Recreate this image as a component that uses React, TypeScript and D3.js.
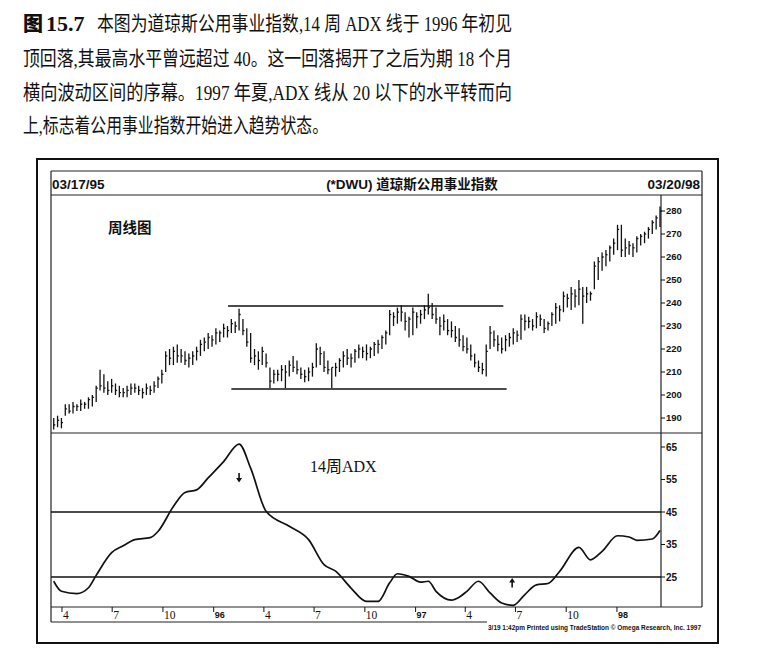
import React, { useEffect, useRef } from 'react';
import * as d3 from 'd3';

// weekly bars, 03/17/95 .. 03/20/98
const startDate = new Date(1995, 2, 17);
const endDate = new Date(1998, 2, 20);

const weekHigh = [
  190, 191, 190, 196, 196, 197, 196, 198, 197, 199,
  200, 204, 211, 209, 206, 207, 205, 204, 203, 204,
  205, 205, 204, 203, 205, 204, 206, 208, 211, 219,
  220, 221, 222, 220, 219, 218, 219, 221, 224, 225,
  227, 226, 229, 228, 231, 230, 233, 232, 237.5, 233,
  229, 227, 220, 219, 221, 218, 212, 211, 211, 213,
  213, 215, 217, 215, 212, 211, 212, 214, 222.5, 221,
  219, 215, 212, 214, 216, 219, 220, 218, 220, 222,
  221, 222, 221, 223, 224, 226, 228, 237, 236, 238,
  239, 236, 234, 238, 236, 237, 239, 244, 240, 238,
  234, 235, 233, 232, 230, 229, 226, 225, 222, 218,
  215, 214, 222, 230, 228, 226, 225, 226, 227, 229,
  228, 235, 235, 234, 233, 236, 235, 233, 232, 236,
  240, 239, 245, 244, 247, 246, 250, 247, 247, 245,
  258, 260, 262, 263, 265, 268, 274, 274, 268, 267,
  266, 269, 270, 271, 273, 276, 278, 282,
];

const weekLow = [
  185, 186, 185.5, 191, 192, 192, 193, 193, 194, 194,
  195, 197, 202, 201, 200, 201, 200, 199, 199, 199,
  200, 201, 200, 198.5, 200, 200, 201, 203, 205, 210,
  213, 213, 214, 214, 213, 212, 213, 215, 217, 219,
  220, 221, 222, 223, 225, 225, 227, 227, 228, 226,
  221, 214, 213, 211, 213, 212, 203, 205, 206, 206,
  203, 208, 210, 209, 207, 205.5, 206, 208, 212, 213,
  210, 209, 203, 208, 210, 212, 213, 212, 214, 216,
  216, 215, 216, 217, 218, 220, 222, 226, 230, 231,
  232, 228, 225, 226, 229, 231, 233, 235, 233, 231,
  226, 228, 226, 225, 223, 221, 219, 218, 215, 212,
  210, 209, 208, 220, 221, 219, 218, 219, 221, 222,
  223, 224, 228, 229, 228, 229, 230, 227, 228, 230,
  231, 232, 236, 238, 237, 238, 239, 231, 240, 241,
  246, 250, 254, 256, 258, 261, 263, 260, 260, 261,
  260, 262, 265, 266, 268, 270, 272, 273,
];

const weekClose = [
  187, 189, 188, 194, 193, 195, 195, 196, 196, 198,
  199, 203, 204, 203, 202, 204, 202, 201, 201, 202,
  203, 203, 202, 201, 203, 202, 204, 207, 209, 217,
  216, 219, 217, 217, 215, 216, 217, 219, 222, 223,
  225, 224, 227, 227, 229, 228, 231, 230, 235, 228,
  223, 216, 217, 215, 219, 214, 206, 209, 209, 211,
  210, 213, 212, 211, 209, 208, 210, 212, 220, 218,
  212, 211, 212, 212, 215, 217, 216, 216, 219, 220,
  219, 218, 220, 222, 222, 225, 227, 235, 234, 236,
  236, 232, 233, 236, 234, 235, 237, 238, 235, 233,
  230, 232, 228, 228, 225, 224, 221, 220, 217, 214,
  212, 211, 219, 227, 224, 222, 220, 224, 225, 227,
  226, 233, 232, 232, 230, 234, 233, 229, 231, 235,
  238, 237, 243, 242, 244, 243, 246, 243, 244, 244,
  256, 258, 260, 261, 264, 266, 272, 263, 264, 265,
  264, 268, 269, 270, 272, 275, 277, 280,
];

// 14-week ADX, read at these week numbers
const adxWeek = [
  0, 2, 6, 9, 11, 15, 18, 21, 25, 27,
  31, 34, 37, 40, 44, 48, 51, 55, 61, 66,
  70, 73, 77, 81, 84, 87, 89, 92, 95, 97,
  99, 103, 105, 107, 110, 113, 116, 119, 122, 125,
  128, 131, 136, 139, 142, 146, 149, 151, 155, 157,
];
const adxValue = [
  23.7, 20.6, 19.9, 21.7, 25.5, 32.5, 34.6, 36.5, 37.1, 39,
  46.7, 51, 51.8, 55.5, 60.5, 65.9, 58.5, 45.2, 40.6, 36.5,
  28.8, 26.8, 21.6, 17.5, 17.5, 23.2, 26.0, 25.2, 23.4, 23.7,
  20.6, 17.9, 18.8, 20.6, 23.7, 20.1, 17.0, 16.3, 19.6, 22.6,
  23, 26.7, 34.1, 30.3, 32.9, 37.7, 37.3, 36.3, 36.7, 39.3,
];

const priceTicks = [190, 200, 210, 220, 230, 240, 250, 260, 270, 280];
const adxTicks = [25, 35, 45, 55, 65];
const adxLevels = [45, 25];

const dateTickDates = [
  '1995-04-01', '1995-07-01', '1995-10-01', '1996-01-01',
  '1996-04-01', '1996-07-01', '1996-10-01', '1997-01-01',
  '1997-04-01', '1997-07-01', '1997-10-01', '1998-01-01',
];
const dateTickLabels = ['4', '7', '10', '96', '4', '7', '10', '97', '4', '7', '10', '98'];

// trading range lines
const rangeLevel = [238.7, 202.6];
const rangeFromWeek = [45.2, 46];
const rangeToWeek = [116.5, 117.3];

// ADX arrows: week, value, direction
const arrowWeek = [48, 118.8];
const arrowValue = [55.5, 23.3];
const arrowDir = ['down', 'up'];

const captionLines = [
  '本图为道琼斯公用事业指数,14 周 ADX 线于 1996 年初见',
  '顶回落,其最高水平曾远超过 40。这一回落揭开了之后为期 18 个月',
  '横向波动区间的序幕。1997 年夏,ADX 线从 20 以下的水平转而向',
  '上,标志着公用事业指数开始进入趋势状态。',
];

const serif = '"Liberation Serif", "Noto Sans CJK SC", serif';
const sans = '"Liberation Sans", Arial, "Noto Sans CJK SC", sans-serif';

export default function App() {
  const svgRef = useRef<SVGSVGElement | null>(null);

  useEffect(() => {
    if (!svgRef.current) return;
    const svg = d3.select(svgRef.current);
    svg.selectAll('*').remove();

    const left = 51;
    const right = 702;
    const axisX = 661;
    const top = 171;
    const headerY = 195;
    const splitY = 433;
    const adxBottom = 607;
    const dateBottom = 622;

    const x = d3.scaleTime().domain([startDate, endDate]).range([53.7, 660]);
    const xw = (w: number) => x(d3.timeDay.offset(startDate, w * 7));
    const yP = d3.scaleLinear().domain([190, 280]).range([418, 211]);
    const yA = d3.scaleLinear().domain([25, 65]).range([577, 447]);

    svg.append('rect').attr('width', 760).attr('height', 660).attr('fill', '#fff');

    // caption
    const cap = svg.append('g').attr('fill', '#111');
    cap.append('text').attr('x', 23).attr('y', 31)
      .attr('font-family', '"Noto Sans CJK SC"').attr('font-weight', 900)
      .attr('font-size', 20).text('图');
    cap.append('text').attr('x', 46).attr('y', 31)
      .attr('font-family', serif).attr('font-weight', 'bold')
      .attr('font-size', 22).text('15.7');
    const capX = [97, 23, 23, 23];
    const capEnd = [512, 512, 512, 328];
    const capY = [31, 66, 100, 133];
    captionLines.forEach((line, i) => {
      cap.append('text')
        .attr('x', capX[i]).attr('y', capY[i])
        .attr('font-family', serif).attr('font-size', 20.5)
        .attr('textLength', capEnd[i] - capX[i])
        .attr('lengthAdjust', 'spacingAndGlyphs')
        .text(line);
    });

    // frames
    svg.append('rect').attr('x', 37).attr('y', 159).attr('width', 681).attr('height', 484)
      .attr('fill', 'none').attr('stroke', '#111').attr('stroke-width', 2);
    const frame = svg.append('g').attr('stroke', '#222').attr('stroke-width', 1.2).attr('fill', 'none');
    const hline = (y: number, x1: number, x2: number) =>
      frame.append('line').attr('x1', x1).attr('x2', x2).attr('y1', y).attr('y2', y);
    const vline = (xx: number, y1: number, y2: number) =>
      frame.append('line').attr('x1', xx).attr('x2', xx).attr('y1', y1).attr('y2', y2);
    hline(top, left, right);
    hline(headerY, left, right);
    hline(splitY, left, right);
    hline(adxBottom, left, right);
    hline(dateBottom, left, 487);
    vline(left, top, dateBottom);
    vline(right, top, adxBottom);
    vline(axisX, headerY, adxBottom);

    // header
    const head = svg.append('g').attr('font-family', sans).attr('font-weight', 'bold')
      .attr('font-size', 13.5).attr('fill', '#111');
    head.append('text').attr('x', 52).attr('y', 189).text('03/17/95');
    head.append('text').attr('x', 412).attr('y', 189).attr('text-anchor', 'middle').text('(*DWU) 道琼斯公用事业指数');
    head.append('text').attr('x', 700).attr('y', 189).attr('text-anchor', 'end').text('03/20/98');

    // panel labels
    svg.append('text').attr('x', 108).attr('y', 233)
      .attr('font-family', '"Noto Sans CJK SC"').attr('font-weight', 'bold')
      .attr('font-size', 14.5).attr('fill', '#111').text('周线图');
    svg.append('text').attr('x', 310).attr('y', 472)
      .attr('font-family', serif).attr('font-size', 16).attr('fill', '#111').text('14周ADX');

    // price axis
    const pa = svg.append('g').attr('font-family', sans).attr('font-weight', 'bold')
      .attr('font-size', 9.5).attr('fill', '#111');
    priceTicks.forEach((t) => {
      pa.append('line').attr('x1', axisX).attr('x2', axisX + 4).attr('y1', yP(t)).attr('y2', yP(t))
        .attr('stroke', '#111').attr('stroke-width', 1);
      pa.append('text').attr('x', axisX + 5).attr('y', yP(t)).attr('dy', '0.35em').text(String(t));
    });
    const aa = svg.append('g').attr('font-family', sans).attr('font-weight', 'bold')
      .attr('font-size', 10).attr('fill', '#111');
    adxTicks.forEach((t) => {
      aa.append('line').attr('x1', axisX).attr('x2', axisX + 4).attr('y1', yA(t)).attr('y2', yA(t))
        .attr('stroke', '#111').attr('stroke-width', 1);
      aa.append('text').attr('x', axisX + 5).attr('y', yA(t)).attr('dy', '0.35em').text(String(t));
    });

    // date axis
    const da = svg.append('g').attr('fill', '#111');
    dateTickDates.forEach((d, i) => {
      const tx = x(new Date(d + 'T00:00:00'));
      da.append('line').attr('x1', tx).attr('x2', tx).attr('y1', adxBottom).attr('y2', adxBottom + 5)
        .attr('stroke', '#111').attr('stroke-width', 1);
      const isYear = dateTickLabels[i].length === 2 && +dateTickLabels[i] > 12;
      da.append('text').attr('x', tx + 1).attr('y', isYear ? 618 : 619)
        .attr('font-family', isYear ? sans : serif)
        .attr('font-weight', isYear ? 'bold' : 'normal')
        .attr('font-size', isYear ? 9 : 11.5).text(dateTickLabels[i]);
    });
    svg.append('text').attr('x', 701).attr('y', 629.5).attr('text-anchor', 'end')
      .attr('font-family', sans).attr('font-weight', 'bold').attr('font-size', 7)
      .attr('textLength', 213).attr('lengthAdjust', 'spacingAndGlyphs').attr('fill', '#111')
      .text('3/19  1:42pm Printed using TradeStation © Omega Research, Inc. 1997');

    // bars
    const bars = svg.append('g').attr('stroke', '#111').attr('stroke-width', 1.3);
    weekHigh.forEach((h, i) => {
      const bx = xw(i);
      bars.append('line').attr('x1', bx).attr('x2', bx).attr('y1', yP(h)).attr('y2', yP(weekLow[i]));
      bars.append('line').attr('x1', bx).attr('x2', bx + 1.6)
        .attr('y1', yP(weekClose[i])).attr('y2', yP(weekClose[i]));
    });

    // trading range
    rangeLevel.forEach((lv, i) => {
      svg.append('line').attr('x1', xw(rangeFromWeek[i])).attr('x2', xw(rangeToWeek[i]))
        .attr('y1', yP(lv)).attr('y2', yP(lv)).attr('stroke', '#111').attr('stroke-width', 1.6);
    });

    // ADX
    adxLevels.forEach((lv) => {
      svg.append('line').attr('x1', left).attr('x2', axisX).attr('y1', yA(lv)).attr('y2', yA(lv))
        .attr('stroke', '#111').attr('stroke-width', 1.5);
    });
    const adxPts: [number, number][] = adxWeek.map((w, i) => [w, adxValue[i]]);
    const adxLine = d3.line<[number, number]>()
      .x((d) => xw(d[0]))
      .y((d) => yA(d[1]))
      .curve(d3.curveMonotoneX);
    svg.append('path').datum(adxPts).attr('d', adxLine).attr('fill', 'none')
      .attr('stroke', '#111').attr('stroke-width', 1.7);

    arrowWeek.forEach((w, i) => {
      const ax = xw(w);
      const ay = yA(arrowValue[i]);
      const s = arrowDir[i] === 'down' ? 1 : -1;
      svg.append('line').attr('x1', ax).attr('x2', ax).attr('y1', ay - 5 * s).attr('y2', ay + 1 * s)
        .attr('stroke', '#111').attr('stroke-width', 1.6);
      svg.append('path')
        .attr('d', `M${ax - 3},${ay} L${ax + 3},${ay} L${ax},${ay + 4.5 * s} Z`)
        .attr('fill', '#111');
    });
  }, []);

  return (
    <svg
      ref={svgRef}
      width={760}
      height={660}
      style={{ position: 'absolute', left: 0, top: 0, display: 'block' }}
    />
  );
}
